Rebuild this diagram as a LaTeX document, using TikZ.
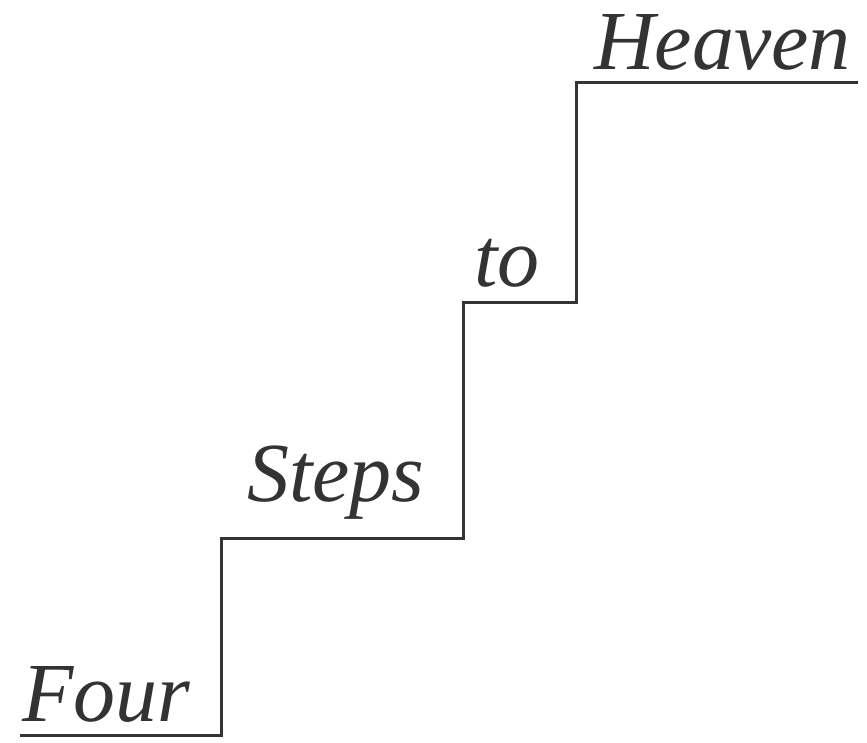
\documentclass[tikz,border=0pt]{standalone}
\usepackage{fontspec}
\setmainfont{Liberation Serif}
\begin{document}
\begin{tikzpicture}[x=1pt,y=1pt,
  stair/.style={line width=3pt, draw=black!80, line join=miter},
  word/.style={anchor=base west, inner sep=0pt, text=black!80, font=\fontsize{84}{100}\selectfont\itshape}]
\useasboundingbox (0,0) rectangle (867,743);
\coordinate (p0) at (20,7);
\coordinate (p1) at (221,7);
\coordinate (p2) at (221,204);
\coordinate (p3) at (463,204);
\coordinate (p4) at (463,440);
\coordinate (p5) at (576,440);
\coordinate (p6) at (576,660);
\coordinate (p7) at (858,660);
\draw[stair] (p0) -- (p1) -- (p2) -- (p3) -- (p4) -- (p5) -- (p6) -- (p7);
\node[word] (four) at (22,21) {Four};
\node[word] (steps) at (247,241) {Steps};
\node[word] (to) at (474,456) {to};
\node[word] (heaven) at (594,673) {Heaven};
\end{tikzpicture}
\end{document}
